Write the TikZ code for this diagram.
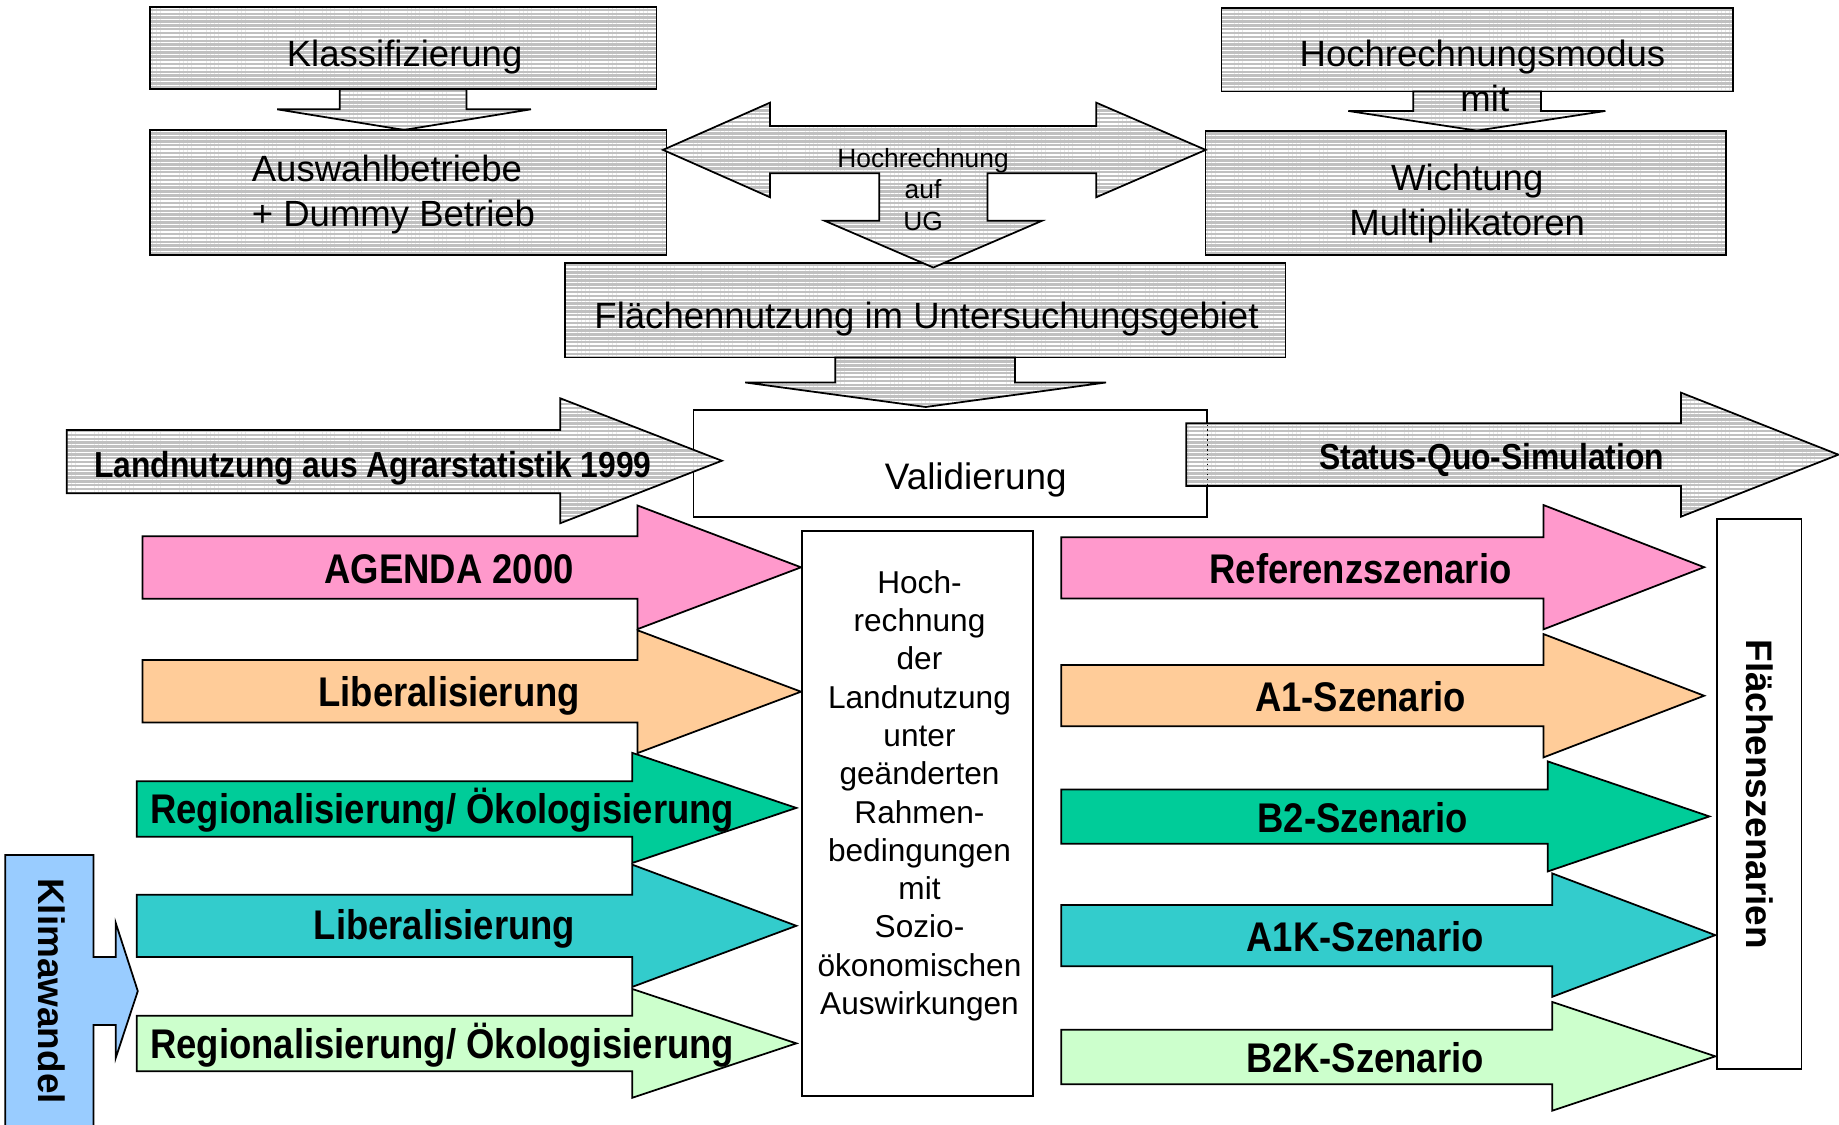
\documentclass[tikz,border=0pt]{standalone}
\usepackage{fontspec}
\setmainfont{Liberation Sans}
\newfontfamily\narrowsans{Liberation Sans}[FakeStretch=0.88]
\usepackage{xcolor}
\usepackage{tikz}
\usetikzlibrary{patterns.meta}

\definecolor{hatchgray}{RGB}{192,192,192}
\definecolor{agpink}{RGB}{255,153,204}
\definecolor{agpeach}{RGB}{255,204,153}
\definecolor{aggreen}{RGB}{0,204,153}
\definecolor{agteal}{RGB}{51,204,204}
\definecolor{aglight}{RGB}{204,255,204}
\definecolor{klimablue}{RGB}{153,204,255}

\newcommand{\pxu}{0.011728cm}

% right block arrow: style, tail x, shaft top, shaft bottom, head x, head top, head bottom, tip x
\newcommand{\rblock}[8]{%
  \draw[#1] (#2,#3) -- (#5,#3) -- (#5,#6) -- (#8,{(#6+#7)/2})
    -- (#5,#7) -- (#5,#4) -- (#2,#4) -- cycle;}
% down block arrow: style, shaft left, shaft right, top y, head y, wing left, wing right, tip y
\newcommand{\dblock}[8]{%
  \draw[#1] (#2,#4) -- (#2,#5) -- (#6,#5) -- ({(#6+#7)/2},#8)
    -- (#7,#5) -- (#3,#5) -- (#3,#4) -- cycle;}

\begin{document}
\begin{tikzpicture}[x=\pxu, y=-\pxu,
  line width=0.5pt,
  hatch/.style={draw=black, preaction={fill=hatchgray},
                preaction={pattern={Lines[angle=0,distance=1.1pt,line width=0.4pt]},
                           pattern color=white}},
  hatchbox/.style={rectangle, hatch, inner sep=0pt},
  plainbox/.style={rectangle, draw=black, fill=white, inner sep=0pt},
  boxtext/.style={inner sep=0pt, align=center, font=\fontsize{10.4}{12.7}\selectfont},
  scen/.style={draw=black, fill=#1},
  arrtext/.style={font=\narrowsans\bfseries\fontsize{11.8}{13}\selectfont, inner sep=0pt},
  graytext/.style={font=\narrowsans\bfseries\fontsize{10.3}{12}\selectfont, inner sep=0pt},
  sidetext/.style={font=\bfseries\fontsize{10.5}{12}\selectfont, inner sep=0pt, rotate=-90}
]
\useasboundingbox (0,0) rectangle (1568,959);

%% ── TOP: hatched boxes at fixed positions ────────────────────────────
\node[hatchbox, minimum width=431.7*\pxu, minimum height=70.4*\pxu]  at (344,40.9)     (klass)   {};
\node[hatchbox, minimum width=440.6*\pxu, minimum height=106.5*\pxu] at (347.9,164)    (auswahl) {};
\node[hatchbox, minimum width=436.3*\pxu, minimum height=71*\pxu]    at (1259.7,42.6)  (hrmodus) {};
\node[hatchbox, minimum width=443.6*\pxu, minimum height=105.9*\pxu] at (1249.6,164.4) (wicht)   {};
\node[hatchbox, minimum width=614*\pxu, minimum height=80.9*\pxu]    at (789,264.4)    (flnutz)  {};

\node[boxtext] at (345,49)      (klasstext)   {Klassifizierung};
\node[boxtext, align=left] at (335.5,166) (auswahltext) {Auswahlbetriebe\\+ Dummy Betrieb};
\node[boxtext] at (1264,48.6)   (hrmodustext) {Hochrechnungsmodus};
\node[boxtext] at (1251,173.4)  (wichttext)   {Wichtung\\Multiplikatoren};
\node[boxtext] at (790,272.4)   (flnutztext)  {Flächennutzung im Untersuchungsgebiet};

% down arrows between the boxes
\dblock{hatch}{289.7}{397.8}{76.1}{93.2}{236.3}{452.7}{110.8}
\dblock{hatch}{1205}{1314}{78.1}{94.6}{1149.6}{1368.8}{111.4}
\node[boxtext] at (1266,84) (mit) {mit};

% double arrow with drop to the study area
\draw[hatch] (565.3,127.8) -- (656.6,87.5) -- (656.6,107.4) -- (934.6,107.4)
  -- (934.6,87.5) -- (1028,127.8) -- (934.6,168.2) -- (934.6,147.7)
  -- (842,147.7) -- (842,188.3) -- (888.3,188.3) -- (795.8,228.1)
  -- (703.3,188.3) -- (749.6,188.3) -- (749.6,147.7) -- (656.6,147.7)
  -- (656.6,168.2) -- cycle;
\node[align=center, inner sep=0pt, font=\fontsize{7.5}{8.9}\selectfont] at (787,161.6) (hrug) {Hochrechnung\\auf\\UG};

\dblock{hatch}{712.1}{865.4}{304.8}{326.1}{635.4}{943.1}{347}

%% ── MIDDLE: Validierung with input and output arrows ─────────────────
\node[plainbox, minimum width=437.9*\pxu, minimum height=91*\pxu] at (810.3,395) (valbox) {};
\node[font=\fontsize{10.5}{12}\selectfont, inner sep=0pt] at (832,409) (valid) {Validierung};

\rblock{hatch}{57}{366.6}{420.6}{477.7}{339.6}{446.1}{615.5}
\node[graytext] at (318,399) (agrar) {Landnutzung aus Agrarstatistik 1999};

\rblock{hatch}{1011.5}{360.9}{414.3}{1433.3}{334.8}{440.5}{1567.5}
\draw[densely dotted, line width=0.4pt] (1029.3,362) -- (1029.3,413);
\node[graytext] at (1272,392) (sq) {Status-Quo-Simulation};

%% ── LEFT: policy scenario arrows ─────────────────────────────────────
\rblock{scen=agpink}{121.5}{457.3}{510.4}{543.6}{431}{536.4}{683}
\rblock{scen=agpeach}{121.5}{562.7}{616.1}{543.6}{537.4}{642.1}{683}
\rblock{scen=aggreen}{116.5}{666.2}{713.5}{539}{641.9}{735.8}{679}
\rblock{scen=agteal}{116.5}{762.8}{815.9}{539}{737.2}{841.5}{679}
\rblock{scen=aglight}{116.5}{866.1}{913.4}{539}{843.2}{936}{679}
\node[arrtext] at (383,485)   (agenda) {AGENDA 2000};
\node[arrtext] at (383,593)   (lib1)   {Liberalisierung};
\node[arrtext] at (377,691)   (reg1)   {Regionalisierung/ Ökologisierung};
\node[arrtext] at (379,792)   (lib2)   {Liberalisierung};
\node[arrtext] at (377,891.5) (reg2)   {Regionalisierung/ Ökologisierung};

% climate change block
\draw[draw=black, fill=klimablue] (4.5,729) -- (79.8,729) -- (79.8,816) -- (98.7,816)
  -- (98.7,787) -- (117.5,845) -- (98.7,902) -- (98.7,874) -- (79.8,874)
  -- (79.8,965) -- (4.5,965) -- cycle;
\node[sidetext] at (44,845) (klima) {Klimawandel};

%% ── CENTRE: projection box ───────────────────────────────────────────
\node[plainbox, minimum width=197.3*\pxu, minimum height=481.8*\pxu] at (782.4,693.5) (hochbox) {};
\node[align=center, inner sep=0pt, font=\fontsize{9}{10.9}\selectfont] at (784,678.5) (hochtext)
  {Hoch-\\rechnung\\der\\Landnutzung\\unter\\geänderten\\Rahmen-\\bedingungen\\mit\\Sozio-\\ökonomischen\\Auswirkungen};

%% ── RIGHT: resulting scenarios ───────────────────────────────────────
\rblock{scen=agpink}{904.8}{458}{510.3}{1316}{430.6}{536.6}{1453}
\rblock{scen=agpeach}{904.8}{566.9}{619.2}{1316}{540.6}{645.8}{1453}
\rblock{scen=aggreen}{904.8}{673.2}{719.4}{1319.7}{649.2}{743}{1457.5}
\rblock{scen=agteal}{904.8}{771.6}{823.9}{1323.5}{744.7}{849.9}{1462.5}
\rblock{scen=aglight}{904.8}{877.9}{924.4}{1323.5}{854.3}{947}{1462.5}
\node[arrtext] at (1160,485)   (ref) {Referenzszenario};
\node[arrtext] at (1160,594)   (a1)  {A1-Szenario};
\node[arrtext] at (1162,697)   (b2)  {B2-Szenario};
\node[arrtext] at (1164,798.6) (a1k) {A1K-Szenario};
\node[arrtext] at (1164,901.5) (b2k) {B2K-Szenario};

\node[plainbox, rotate=-90, minimum width=468.8*\pxu, minimum height=72*\pxu,
      font=\bfseries\fontsize{10.5}{12}\selectfont] at (1500,677.2) (flszen) {Flächenszenarien};

\end{tikzpicture}
\end{document}
